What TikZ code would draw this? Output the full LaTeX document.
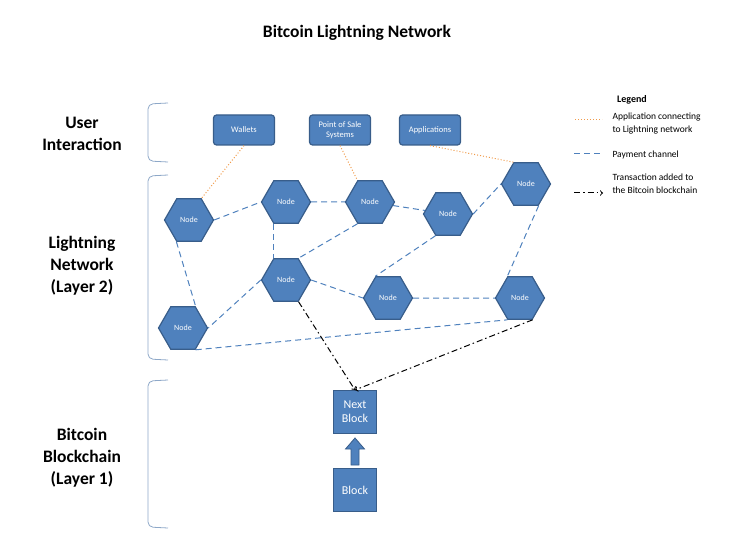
\documentclass[tikz,border=0pt]{standalone}
\usepackage{fontspec}
\setmainfont{Carlito}
\usepackage{xcolor}
\usepackage{tikz}
\usetikzlibrary{shapes.geometric}

\definecolor{hexblue}{HTML}{4F81BD}
\definecolor{hexedge}{HTML}{385D8A}
\definecolor{appline}{HTML}{F09A4A}
\definecolor{brk}{HTML}{8EA8C8}

\begin{document}
\begin{tikzpicture}[x=1pt,y=-1pt,
    hex/.style={draw=hexedge,fill=hexblue,line width=1.2pt,regular polygon,regular polygon sides=6,minimum size=49pt,inner sep=0pt,text=white,font=\fontsize{8}{9}\selectfont},
    app/.style={draw=hexedge,fill=hexblue,line width=1.2pt,rounded corners=3pt,minimum width=61pt,minimum height=30pt,inner sep=1pt,align=center,text=white,font=\fontsize{8.5}{10}\selectfont},
    blk/.style={draw=hexedge,fill=hexblue,line width=1pt,minimum size=43pt,inner sep=1pt,align=center,text=white,font=\fontsize{12}{14}\selectfont},
    chan/.style={draw=hexblue,dash pattern=on 6pt off 4pt,line width=1pt},
    link/.style={draw=appline,dotted,line width=1pt},
    tx/.style={->,draw=black,dash pattern=on 6pt off 3pt on 1.5pt off 3pt,line width=1pt},
    layer/.style={align=center,font=\fontsize{17.5}{22}\bfseries\selectfont},
    brace/.style={draw=brk,line width=0.8pt,rounded corners=5pt},
    legend/.style={anchor=west,align=left,font=\fontsize{9.5}{13}\selectfont}]
    \useasboundingbox (0,0) rectangle (737,559);

    % title and layers
    \node[font=\fontsize{17.5}{20}\bfseries\selectfont] (title) at (357,33) {Bitcoin Lightning Network};
    \node[layer] (user) at (82,134) {User\\Interaction};
    \node[layer] (ln) at (82,266) {Lightning\\Network\\(Layer 2)};
    \node[layer] (bc) at (82,458) {Bitcoin\\Blockchain\\(Layer 1)};
    \draw[brace] (168,103) -- (148,104) -- (148,161) -- (168,162);
    \draw[brace] (168,175) -- (148,176) -- (148,359) -- (168,360);
    \draw[brace] (168,380) -- (148,381) -- (148,527) -- (168,528);

    % applications
    \node[app] (wal) at (244,130) {Wallets};
    \node[app] (pos) at (340,130) {Point of Sale\\Systems};
    \node[app] (apps) at (430,130) {Applications};

    % lightning nodes
    \node[hex] (1) at (189,220) {Node};
    \node[hex] (2) at (286,202) {Node};
    \node[hex] (3) at (370,202) {Node};
    \node[hex] (4) at (448,214) {Node};
    \node[hex] (5) at (526,184) {Node};
    \node[hex] (6) at (286,280) {Node};
    \node[hex] (7) at (388,298) {Node};
    \node[hex] (8) at (520,298) {Node};
    \node[hex] (9) at (183,328) {Node};

    % blocks
    \node[blk] (next) at (355,412) {Next\\Block};
    \node[blk] (block) at (355,490) {Block};
    \draw[draw=hexedge,fill=hexblue,line width=0.8pt] (351,465) -- (351,449) -- (345.5,449) -- (355,438) -- (364.5,449) -- (359,449) -- (359,465) -- cycle;

    % apps to nodes
    \draw[link] (wal.south) to (1.60);
    \draw[link] (pos.south) to (3.120);
    \draw[link] (apps.south) to (5.120);

    % payment channels
    \draw[chan] (1.0) to (2.180);
    \draw[chan] (2) to (3);
    \draw[chan] (3) to (4);
    \draw[chan] (4.0) to (5.180);
    \draw[chan] (2.240) to (6.120);
    \draw[chan] (3.240) to (6.60);
    \draw[chan] (4.240) to (7.120);
    \draw[chan] (5.300) to (8.120);
    \draw[chan] (1.240) to (9.60);
    \draw[chan] (6.180) to (9.0);
    \draw[chan] (6.0) to (7.180);
    \draw[chan] (7) to (8);
    \draw[chan] (9.300) to (8.240);

    % transactions
    \draw[tx] (6.300) to (next.north);
    \draw[tx] (8.300) to (next.north);

    % legend
    \node[font=\fontsize{10}{12}\bfseries\selectfont] (leg) at (632,100) {Legend};
    \coordinate (l1a) at (575,120);
    \coordinate (l1b) at (602,120);
    \coordinate (l2a) at (574,154);
    \coordinate (l2b) at (602,154);
    \coordinate (l3a) at (574,193);
    \coordinate (l3b) at (603,193);
    \draw[link] (l1a) to (l1b);
    \draw[chan] (l2a) to (l2b);
    \draw[tx] (l3a) to (l3b);
    \node[legend] (t1) at (609,124) {Application connecting\\to Lightning network};
    \node[legend] (t2) at (609,155) {Payment channel};
    \node[legend] (t3) at (609,184) {Transaction added to\\the Bitcoin blockchain};
\end{tikzpicture}
\end{document}
